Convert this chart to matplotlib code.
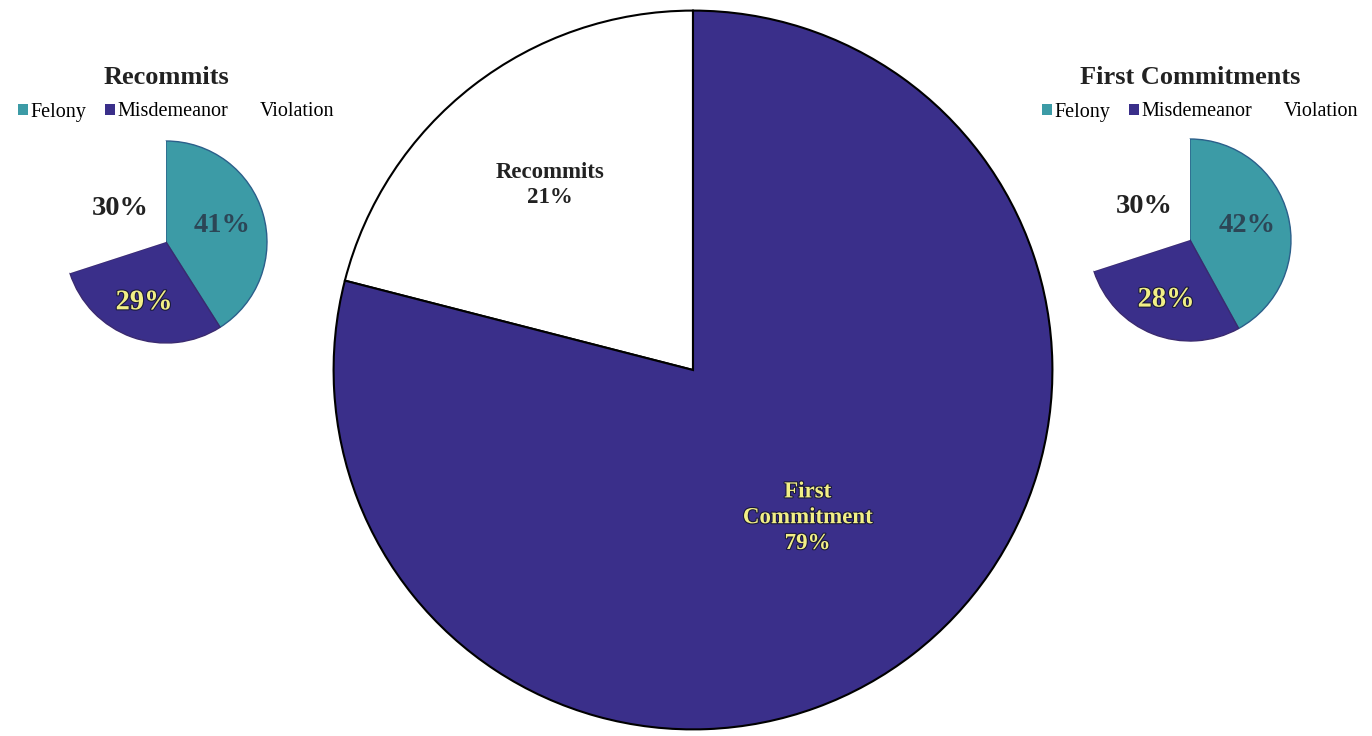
import numpy as np
import matplotlib.pyplot as plt
import matplotlib.patheffects as pe
from matplotlib.patches import Patch

plt.rcParams['font.family'] = ['Liberation Serif', 'DejaVu Serif']

# data
main_labels = ['Recommits', 'First\nCommitment']
main_values = [21, 79]

offense_types = ['Felony', 'Misdemeanor', 'Violation']
recommit_values = [41, 29, 30]
first_values = [42, 28, 30]

purple = '#3a2f8a'
teal = '#3c9ba6'
yellow = '#f2ef86'
W, H = 1372, 736


def px_axes(fig, cx, cy, r):
    # axes box in pixel terms, y measured from the top
    return fig.add_axes([(cx - r) / W, (H - cy - r) / H, 2 * r / W, 2 * r / H])


def label_pos(w, dist):
    ang = np.deg2rad((w.theta1 + w.theta2) / 2)
    return dist * np.cos(ang), dist * np.sin(ang)


fig = plt.figure(figsize=(W / 100, H / 100), dpi=100)
shadow = [pe.withStroke(linewidth=1.6, foreground='#1a1a3a')]

# big pie
ax = px_axes(fig, 693, 370, 363)
wedges, _ = ax.pie(main_values, colors=['white', purple], startangle=90,
                   counterclock=True, radius=1,
                   wedgeprops=dict(edgecolor='black', linewidth=1.5))
ax.set_xlim(-1.01, 1.01)
ax.set_ylim(-1.01, 1.01)
for w, lab, v, d in zip(wedges, main_labels, main_values, [0.65, 0.52]):
    x, y = label_pos(w, d)
    if v == 21:
        ax.text(x, y, f'{lab}\n{v}%', ha='center', va='center', fontsize=16.5,
                fontweight='bold', color='#222222', linespacing=1.25)
    else:
        ax.text(x, y, f'{lab}\n{v}%', ha='center', va='center', fontsize=16.5,
                fontweight='bold', color=yellow, linespacing=1.3,
                path_effects=shadow)

# small pies
small = [('Recommits', recommit_values, 166, 242),
         ('First Commitments', first_values, 1190, 240)]
for title, vals, cx, cy in small:
    a = px_axes(fig, cx, cy, 102)
    ws, _ = a.pie(vals, colors=[teal, purple, 'white'], startangle=90,
                  counterclock=False, radius=1)
    ws[0].set_edgecolor('#2b5f8a')
    ws[1].set_edgecolor('#3a2a70')
    ws[2].set_edgecolor('none')
    for w in ws:
        w.set_linewidth(1.0)
    a.set_xlim(-1.01, 1.01)
    a.set_ylim(-1.01, 1.01)
    cols = ['#2c4656', yellow, '#222222']
    dists = [0.58, 0.64, 0.56]
    for w, v, c, d in zip(ws, vals, cols, dists):
        x, y = label_pos(w, d)
        kw = dict(path_effects=shadow) if c == yellow else {}
        a.text(x, y, f'{v}%', ha='center', va='center', fontsize=20.5,
               fontweight='bold', color=c, **kw)

    fig.text(cx / W, 1 - 78 / H, title, ha='center', va='center',
             fontsize=19, fontweight='bold', color='#222222')
    handles = [Patch(facecolor=teal), Patch(facecolor=purple),
               Patch(facecolor='white')]
    fig.legend(handles, offense_types, loc='center', ncol=3,
               bbox_to_anchor=((cx + 10) / W, 1 - 112 / H), frameon=False,
               fontsize=14.5, handlelength=0.5, handleheight=0.5,
               handletextpad=0.15, columnspacing=0.9, borderpad=0)

fig.savefig('out.png', dpi=100, facecolor='white')
